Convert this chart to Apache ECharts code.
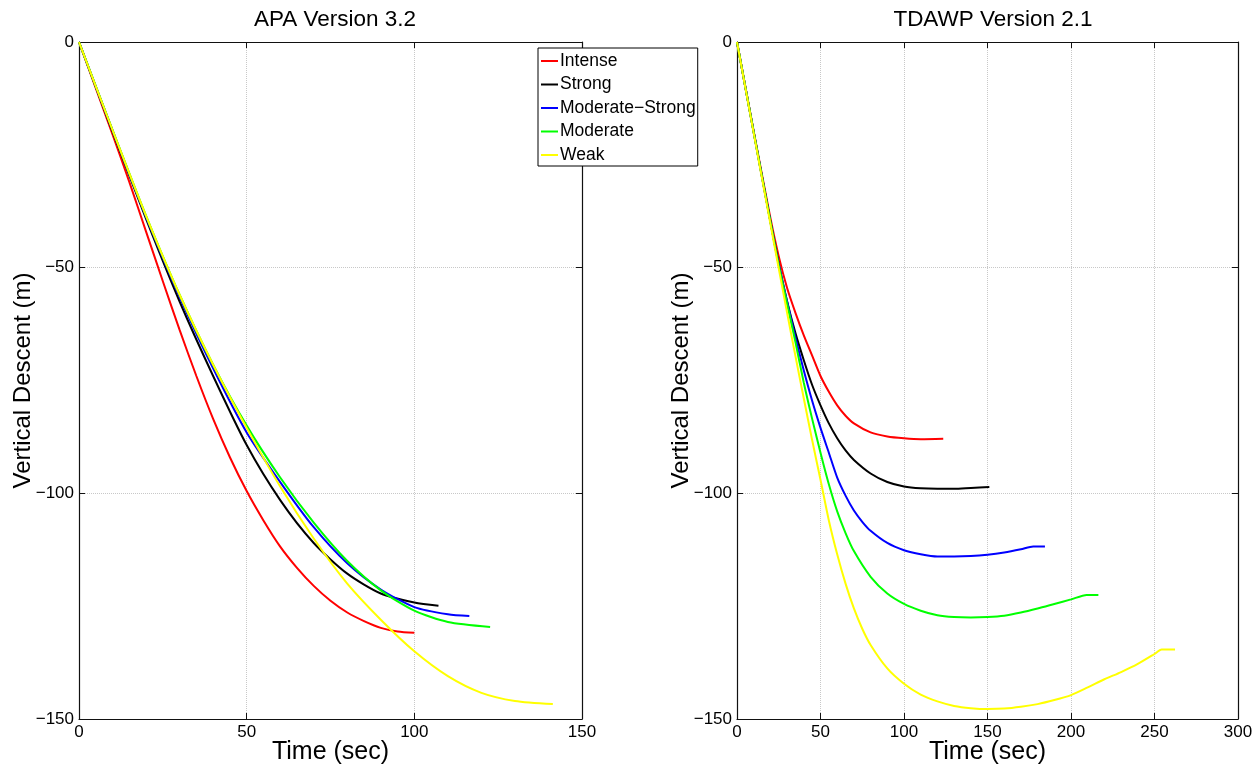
<!DOCTYPE html>
<html>
<head>
<meta charset="utf-8">
<script src="https://cdn.jsdelivr.net/npm/echarts@6/dist/echarts.min.js"></script>
<style>
  html, body { margin: 0; padding: 0; background: #fff; }
  #chart { width: 1260px; height: 766px; }
</style>
</head>
<body>
<div id="chart"></div>
<script>
// time (sec), vertical descent (m)
const seriesNames = ['Intense', 'Strong', 'Moderate-Strong', 'Moderate', 'Weak'];
const seriesColors = ['#ff0000', '#000000', '#0000ff', '#00ff00', '#ffff00'];

const apaIntense = [[0,0],[10,-20.5],[15,-31],[20,-42],[25,-53],[30,-63.8],[35,-74],[40,-83.5],[45,-92],[50,-99.5],[55,-106],[60,-111.8],[65,-116.5],[70,-120.5],[75,-123.8],[80,-126.4],[85,-128.3],[90,-129.8],[95,-130.6],[100,-130.9]];
const apaStrong = [[0,0],[10,-19.8],[20,-39.2],[30,-57.5],[40,-74],[50,-89.3],[60,-101.5],[70,-111],[80,-117.8],[90,-122.2],[100,-124.2],[107.2,-124.9]];
const apaModStrong = [[0,0],[10,-19.6],[20,-38.8],[30,-56.5],[40,-72.3],[50,-86.5],[60,-97.5],[70,-107.5],[80,-115.5],[90,-121.3],[100,-125.2],[110,-126.8],[116.4,-127.2]];
const apaModerate = [[0,0],[10,-19.5],[20,-38.5],[30,-56],[40,-71.5],[50,-85],[60,-96.5],[70,-106.5],[80,-115],[90,-121.5],[100,-126],[110,-128.5],[122.6,-129.6]];
const apaWeak = [[0,0],[10,-19.5],[20,-38.5],[30,-56],[40,-71.5],[50,-85.5],[60,-98.5],[70,-110],[80,-120],[90,-128],[100,-135],[110,-140.5],[120,-144.2],[130,-146],[141.3,-146.7]];

const tdIntense = [[0,0],[10,-19.8],[20,-39],[25,-47.5],[30,-54.5],[35,-60],[40,-65],[45,-69.5],[50,-74],[55,-77.5],[60,-80.5],[65,-82.8],[70,-84.5],[80,-86.5],[90,-87.4],[100,-87.8],[110,-88],[123.5,-87.9]];
const tdStrong = [[0,0],[10,-20],[20,-39.8],[25,-49.2],[30,-57.5],[35,-64.5],[40,-70.5],[45,-76],[50,-80.5],[55,-84.5],[60,-87.8],[65,-90.5],[70,-92.6],[80,-95.6],[90,-97.5],[100,-98.5],[110,-98.9],[120,-99],[130,-99],[140,-98.8],[151.1,-98.6]];
const tdModStrong = [[0,0],[10,-20],[20,-39.8],[25,-49.3],[30,-57.5],[35,-65.5],[40,-72.8],[45,-79.5],[50,-85.5],[55,-91],[60,-96.5],[65,-100.5],[70,-103.8],[75,-106.3],[80,-108.3],[90,-111],[100,-112.6],[110,-113.5],[120,-114],[130,-114],[140,-113.9],[150,-113.6],[160,-113.1],[170,-112.4],[177.4,-111.8],[184.4,-111.8]];
const tdModerate = [[0,0],[10,-20],[20,-39.8],[25,-49.5],[30,-58],[35,-66.5],[40,-75.5],[45,-83.5],[50,-91],[55,-98],[60,-104],[65,-108.8],[70,-112.8],[80,-118.5],[90,-122.2],[100,-124.5],[110,-126],[120,-127],[130,-127.4],[140,-127.5],[150,-127.4],[160,-127.1],[170,-126.4],[180,-125.5],[190,-124.5],[200,-123.5],[209.4,-122.5],[216.4,-122.5]];
const tdWeak = [[0,0],[10,-20.2],[20,-40.3],[25,-50.2],[30,-60],[35,-69.6],[40,-79],[45,-88.2],[50,-97],[55,-106],[60,-113.5],[65,-120],[70,-125.5],[75,-130],[80,-133.6],[90,-138.8],[100,-142.2],[110,-144.6],[120,-146.1],[130,-147.1],[140,-147.6],[150,-147.8],[160,-147.7],[170,-147.3],[180,-146.7],[190,-145.8],[200,-144.7],[210,-143],[220,-141.2],[230,-139.6],[240,-137.8],[250,-135.6],[254.3,-134.6],[262.3,-134.6]];

const apaData = [apaIntense, apaStrong, apaModStrong, apaModerate, apaWeak];
const tdData = [tdIntense, tdStrong, tdModStrong, tdModerate, tdWeak];

const chart = echarts.init(document.getElementById('chart'));
const font = 'Liberation Sans, Arial, Helvetica, sans-serif';

const minusFmt = (v) => (v < 0 ? '\u2212' + Math.abs(v) : String(v));

function xAxisPair(gridIndex, max) {
  const base = {
    gridIndex: gridIndex,
    type: 'value',
    min: 0,
    max: max,
    interval: 50,
    axisLine: { show: true, onZero: false, lineStyle: { color: '#111', width: 1.2 } },
    axisTick: { show: true, inside: true, length: 6, lineStyle: { color: '#111' } }
  };
  return [
    Object.assign({}, base, {
      position: 'bottom',
      name: 'Time (sec)',
      nameLocation: 'middle',
      nameGap: 21,
      nameMoveOverlap: false,
      nameTextStyle: { fontFamily: font, fontSize: 25, color: '#000', verticalAlign: 'top' },
      axisLabel: { fontFamily: font, fontSize: 17, color: '#000', margin: 5 },
      splitLine: { show: true, lineStyle: { color: '#c8c8c8', type: 'dotted' } }
    }),
    Object.assign({}, base, {
      position: 'top',
      axisLabel: { show: false },
      splitLine: { show: false }
    })
  ];
}

function yAxisPair(gridIndex) {
  const base = {
    gridIndex: gridIndex,
    type: 'value',
    min: -150,
    max: 0,
    interval: 50,
    axisLine: { show: true, onZero: false, lineStyle: { color: '#111', width: 1.2 } },
    axisTick: { show: true, inside: true, length: 6, lineStyle: { color: '#111' } }
  };
  return [
    Object.assign({}, base, {
      position: 'left',
      name: 'Vertical Descent (m)',
      nameLocation: 'middle',
      nameGap: 44,
      nameMoveOverlap: false,
      nameRotate: 90,
      nameTextStyle: { fontFamily: font, fontSize: 24, color: '#000' },
      axisLabel: { fontFamily: font, fontSize: 17, color: '#000', margin: 5, formatter: minusFmt },
      splitLine: { show: true, lineStyle: { color: '#c8c8c8', type: 'dotted' } }
    }),
    Object.assign({}, base, {
      position: 'right',
      axisLabel: { show: false },
      splitLine: { show: false }
    })
  ];
}

function makeSeries(dataList, axisIndex) {
  return dataList.map((d, i) => ({
    name: seriesNames[i],
    type: 'line',
    xAxisIndex: axisIndex,
    yAxisIndex: axisIndex,
    data: d,
    smooth: 0.25,
    symbol: 'none',
    color: seriesColors[i],
    lineStyle: { width: 2, color: seriesColors[i] },
    z: 3 + i
  }));
}

const option = {
  backgroundColor: '#fff',
  animation: false,
  title: [
    { text: 'APA Version 3.2', left: 330, top: 3, textAlign: 'center',
      textStyle: { fontFamily: font, fontSize: 22.5, fontWeight: 'normal', color: '#000' } },
    { text: 'TDAWP Version 2.1', left: 988, top: 3, textAlign: 'center',
      textStyle: { fontFamily: font, fontSize: 22.5, fontWeight: 'normal', color: '#000' } }
  ],
  legend: {
    data: seriesNames,
    orient: 'vertical',
    left: 538,
    top: 48,
    padding: [4, 2, 2, 3],
    itemGap: 5.5,
    itemWidth: 17,
    itemHeight: 2,
    icon: 'rect',
    backgroundColor: '#fff',
    borderColor: '#000',
    borderWidth: 1,
    borderRadius: 0,
    textStyle: { fontFamily: font, fontSize: 17.5, color: '#000', padding: [0, 0, 0, -3] },
    formatter: (n) => n.replace('-', '\u2212'),
    z: 10
  },
  grid: [
    { left: 79, top: 42, width: 503, height: 677, containLabel: false, outerBoundsMode: 'none' },
    { left: 737, top: 42, width: 501, height: 677, containLabel: false, outerBoundsMode: 'none' }
  ],
  xAxis: [].concat(xAxisPair(0, 150), xAxisPair(1, 300)),
  yAxis: [].concat(yAxisPair(0), yAxisPair(1)),
  series: [].concat(makeSeries(apaData, 0), makeSeries(tdData, 2))
};

chart.setOption(option);
</script>
</body>
</html>
